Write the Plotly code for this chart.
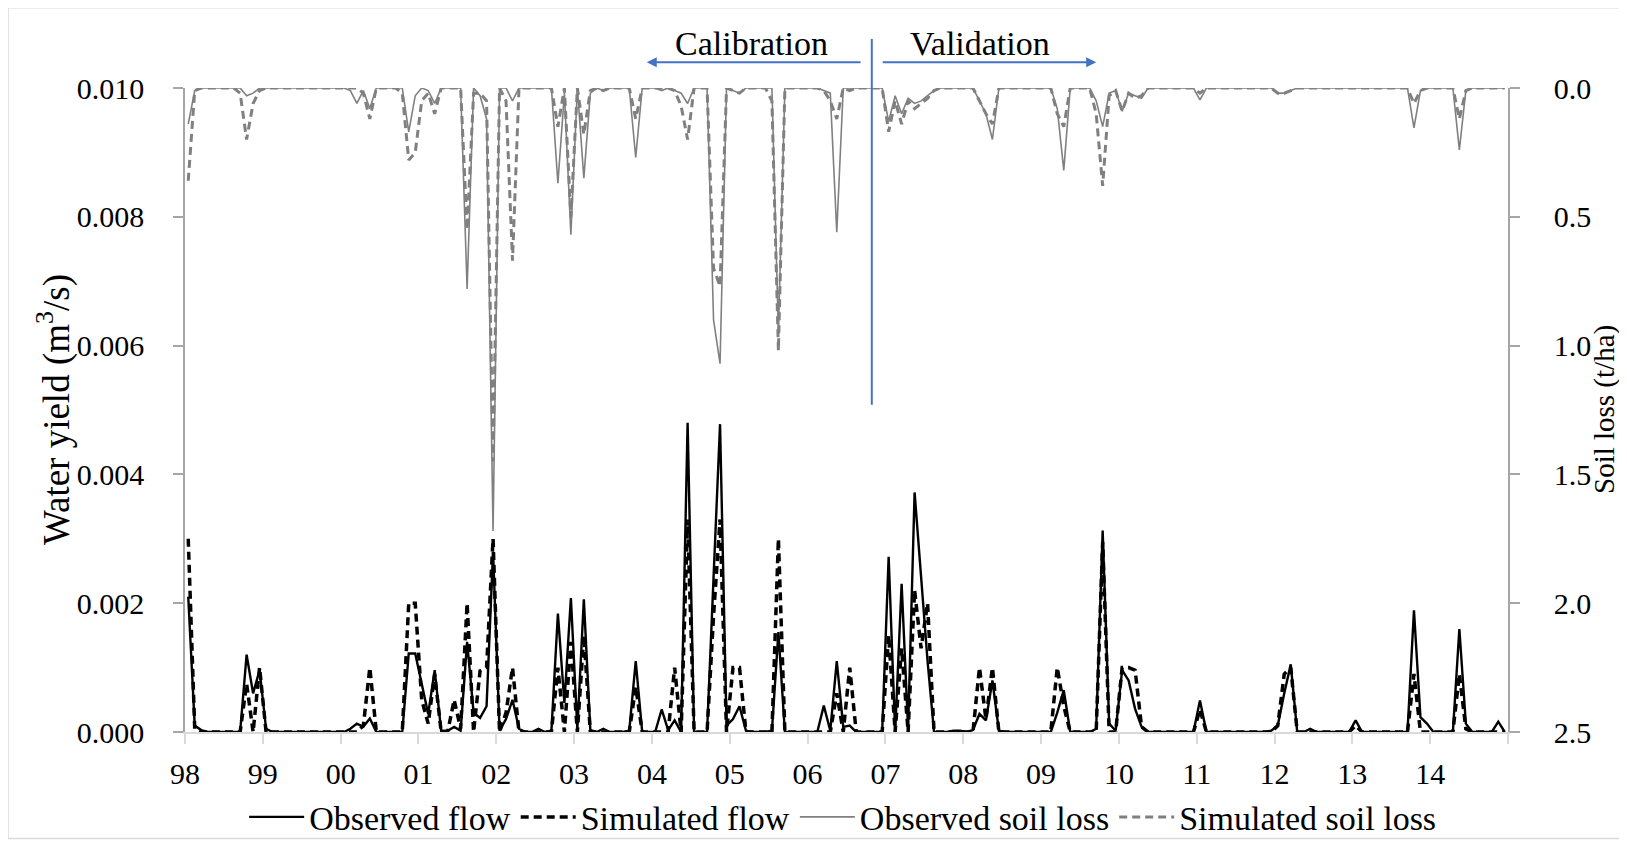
import plotly.graph_objects as go

# ---- categories (monthly, Jan 1998 .. Dec 2014) ----
year_labels = ["98", "99", "00", "01", "02", "03", "04", "05", "06", "07",
               "08", "09", "10", "11", "12", "13", "14"]

# ---- observed flow (m3/s), one row per year ----
obs_flow = [
    0.0021, 0.0001, 0.00003, 0, 0, 0, 0, 0, 0, 0.0012, 0.0006, 0.00096,          # 1998
    0.00005, 0, 0, 0, 0, 0, 0, 0, 0, 0, 0, 0,                                    # 1999
    0, 0.00005, 0.00013, 0.00008, 0.00021, 0, 0, 0, 0, 0, 0.00122, 0.00122,      # 2000
    0.00075, 0.00028, 0.00096, 0.00002, 0.00002, 0.00008, 0.00002, 0.0014,
    0.0003, 0.00022, 0.0004, 0.0028,                                             # 2001
    0.00002, 0.0002, 0.0005, 0.00005, 0, 0, 0.00005, 0, 0.00002, 0.00184,
    0.00045, 0.00208,                                                            # 2002
    0.00005, 0.00206, 0.00003, 0, 0.00005, 0, 0, 0, 0.00002, 0.0011, 0, 0,       # 2003
    0, 0.00035, 0.00003, 0.00018, 0, 0.0048, 0, 0, 0, 0.0024, 0.00478, 0.0001,   # 2004
    0.0002, 0.0004, 0.00002, 0, 0, 0, 0.00002, 0.00155, 0, 0, 0, 0,             # 2005
    0, 0, 0.00041, 0.00002, 0.0011, 0.00008, 0.0001, 0, 0, 0, 0, 0,             # 2006
    0.00272, 0, 0.0023, 0.00005, 0.00372, 0.0024, 0.0011, 0, 0, 0, 0.00002,
    0.00002,                                                                     # 2007
    0, 0.00003, 0.00028, 0.00018, 0.0008, 0.00002, 0, 0, 0, 0, 0, 0,            # 2008
    0, 0, 0.0003, 0.00065, 0, 0, 0, 0, 0.00005, 0.00313, 0.00013, 0.00002,      # 2009
    0.00096, 0.0008, 0.00036, 0.00008, 0, 0, 0, 0, 0, 0, 0, 0,                  # 2010
    0.00049, 0, 0, 0, 0, 0, 0, 0, 0, 0, 0, 0.00002,                             # 2011
    0.0001, 0.0006, 0.00105, 0, 0, 0.00005, 0, 0, 0, 0, 0, 0,                   # 2012
    0.00018, 0, 0, 0, 0, 0, 0, 0, 0, 0.00189, 0.00023, 0.00013,                 # 2013
    0, 0, 0, 0, 0.0016, 0.00013, 0, 0, 0, 0, 0.00016, 0,                        # 2014
]

# ---- simulated flow (m3/s) ----
sim_flow = [
    0.003, 0.00005, 0, 0, 0, 0, 0, 0, 0, 0.00075, 0, 0.001,                     # 1998
    0, 0, 0, 0, 0, 0, 0, 0, 0, 0, 0, 0,                                         # 1999
    0, 0, 0, 0.0001, 0.001, 0, 0, 0, 0, 0, 0.002, 0.002,                        # 2000
    0.0005, 0.00013, 0.0009, 0, 0, 0.0005, 0.00005, 0.002, 0, 0.00095, 0.001,
    0.003,                                                                      # 2001
    0, 0.0003, 0.001, 0, 0, 0, 0, 0, 0, 0.001, 0, 0.0014,                       # 2002
    0, 0.0015, 0, 0, 0, 0, 0, 0, 0, 0.0007, 0, 0,                               # 2003
    0, 0, 0, 0.001, 0, 0.0033, 0, 0, 0, 0.0018, 0.0033, 0,                      # 2004
    0.001, 0.001, 0, 0, 0, 0, 0, 0.003, 0, 0, 0, 0,                             # 2005
    0, 0, 0, 0, 0.0006, 0, 0.001, 0, 0, 0, 0, 0,                                # 2006
    0.0015, 0, 0.0013, 0, 0.0022, 0.0013, 0.002, 0, 0, 0, 0, 0,                 # 2007
    0, 0, 0.001, 0.0002, 0.001, 0, 0, 0, 0, 0, 0, 0,                            # 2008
    0, 0, 0.001, 0.0004, 0, 0, 0, 0, 0, 0.00295, 0, 0,                          # 2009
    0.001, 0.001, 0.00096, 0.00008, 0, 0, 0, 0, 0, 0, 0, 0,                     # 2010
    0.00035, 0, 0, 0, 0, 0, 0, 0, 0, 0, 0, 0,                                   # 2011
    0.0001, 0.0009, 0.001, 0, 0, 0, 0, 0, 0, 0, 0, 0,                           # 2012
    0.0001, 0, 0, 0, 0, 0, 0, 0, 0, 0.0009, 0, 0,                               # 2013
    0, 0, 0, 0, 0.0009, 0.00005, 0, 0, 0, 0, 0, 0,                              # 2014
]

# ---- observed soil loss (t/ha) ----
obs_soil = [
    0.14, 0.01, 0, 0, 0, 0, 0, 0, 0, 0.03, 0.02, 0,                             # 1998
    0, 0, 0, 0, 0, 0, 0, 0, 0, 0, 0, 0,                                         # 1999
    0, 0.01, 0.06, 0.01, 0.08, 0, 0, 0, 0, 0, 0.17, 0.03,                       # 2000
    0, 0.01, 0.06, 0, 0, 0, 0, 0.78, 0, 0.03, 0.12, 1.72,                       # 2001
    0, 0, 0.05, 0, 0, 0, 0, 0, 0, 0.37, 0.02, 0.57,                             # 2002
    0, 0.35, 0.02, 0, 0.01, 0, 0, 0, 0, 0.27, 0, 0,                             # 2003
    0, 0.01, 0, 0.01, 0.02, 0.06, 0, 0, 0, 0.9, 1.07, 0,                        # 2004
    0.01, 0.02, 0, 0, 0, 0, 0, 0.95, 0, 0, 0, 0,                                # 2005
    0, 0, 0.01, 0.02, 0.56, 0, 0, 0, 0, 0, 0, 0,                                # 2006
    0.13, 0.03, 0.1, 0.04, 0.06, 0.05, 0.03, 0.01, 0, 0, 0, 0,                  # 2007
    0, 0, 0.05, 0.1, 0.2, 0, 0, 0, 0, 0, 0, 0,                                  # 2008
    0, 0, 0.08, 0.32, 0, 0, 0, 0, 0.05, 0.15, 0.02, 0.01,                       # 2009
    0.09, 0.02, 0.03, 0.04, 0, 0, 0, 0, 0, 0, 0, 0,                             # 2010
    0.046, 0, 0, 0, 0, 0, 0, 0, 0, 0, 0, 0,                                     # 2011
    0.02, 0.02, 0.01, 0, 0, 0, 0, 0, 0, 0, 0, 0,                                # 2012
    0, 0, 0, 0, 0, 0, 0, 0, 0, 0.155, 0.01, 0,                                  # 2013
    0, 0, 0, 0, 0.24, 0.01, 0, 0, 0, 0, 0, 0,                                   # 2014
]

# ---- simulated soil loss (t/ha) ----
sim_soil = [
    0.36, 0.01, 0, 0, 0, 0, 0, 0, 0.02, 0.2, 0.06, 0.01,                        # 1998
    0, 0, 0, 0, 0, 0, 0, 0, 0, 0, 0, 0,                                         # 1999
    0, 0, 0, 0.02, 0.12, 0, 0, 0, 0, 0.02, 0.28, 0.25,                          # 2000
    0.05, 0.02, 0.1, 0, 0, 0, 0, 0.55, 0.02, 0.02, 0.05, 1.45,                  # 2001
    0, 0.05, 0.67, 0, 0, 0, 0, 0, 0, 0.15, 0, 0.5,                              # 2002
    0, 0.18, 0.01, 0, 0.01, 0, 0, 0, 0, 0.12, 0, 0,                             # 2003
    0, 0, 0, 0.01, 0.07, 0.2, 0, 0, 0, 0.7, 0.77, 0,                            # 2004
    0.01, 0.02, 0, 0, 0, 0, 0.05, 1.02, 0, 0, 0, 0,                             # 2005
    0, 0, 0.01, 0.05, 0.12, 0, 0.01, 0, 0, 0, 0, 0,                             # 2006
    0.17, 0.05, 0.14, 0.05, 0.08, 0.06, 0.04, 0.01, 0, 0, 0, 0,                 # 2007
    0, 0, 0.05, 0.1, 0.14, 0, 0, 0, 0, 0, 0, 0,                                 # 2008
    0, 0, 0.1, 0.15, 0, 0, 0, 0, 0.1, 0.38, 0.03, 0.01,                         # 2009
    0.09, 0.02, 0.04, 0.03, 0, 0, 0, 0, 0, 0, 0, 0,                             # 2010
    0.02, 0, 0, 0, 0, 0, 0, 0, 0, 0, 0, 0,                                      # 2011
    0.02, 0.02, 0.01, 0, 0, 0, 0, 0, 0, 0, 0, 0,                                # 2012
    0, 0, 0, 0, 0, 0, 0, 0, 0, 0.06, 0.01, 0,                                   # 2013
    0, 0, 0, 0, 0.12, 0.01, 0, 0, 0, 0, 0, 0,                                   # 2014
]

months = list(range(len(obs_flow)))          # month index 0 = Jan 1998
year_ticks = [12 * k - 0.5 for k in range(len(year_labels) + 1)]
year_text = year_labels + [""]

FONT = "Liberation Serif, Times New Roman, serif"
GREY = "#808080"
BLUE = "#4472C4"

fig = go.Figure()
fig.add_trace(go.Scatter(x=months, y=obs_soil, name="Observed soil loss", yaxis="y2",
                         mode="lines", line=dict(color=GREY, width=1.6), showlegend=False))
fig.add_trace(go.Scatter(x=months, y=sim_soil, name="Simulated soil loss", yaxis="y2",
                         mode="lines", line=dict(color=GREY, width=3, dash="8px,5px"),
                         showlegend=False))
fig.add_trace(go.Scatter(x=months, y=obs_flow, name="Observed flow",
                         mode="lines", line=dict(color="black", width=2.4)))
fig.add_trace(go.Scatter(x=months, y=sim_flow, name="Simulated flow",
                         mode="lines", line=dict(color="black", width=3.5, dash="8px,5px")))
# legend-only entries for soil loss in the correct order
fig.add_trace(go.Scatter(x=[None], y=[None], name="Observed soil loss", mode="lines",
                         line=dict(color=GREY, width=1.6)))
fig.add_trace(go.Scatter(x=[None], y=[None], name="Simulated soil loss", mode="lines",
                         line=dict(color=GREY, width=3, dash="8px,5px")))

fig.update_layout(
    width=1627, height=843,
    margin=dict(l=177, r=127, t=80, b=119, autoexpand=False),
    paper_bgcolor="white", plot_bgcolor="white",
    font=dict(family=FONT, size=30, color="black"),
    showlegend=True,
    legend=dict(orientation="h", x=0.513, xanchor="center", xref="container",
                y=0.040, yanchor="middle", yref="container",
                font=dict(size=34), itemwidth=55, tracegroupgap=0,
                bgcolor="rgba(0,0,0,0)"),
    xaxis=dict(range=[-0.5, 203.5], tickmode="array", tickvals=year_ticks, ticktext=year_text,
               ticks="outside", ticklen=10, tickcolor="#D9D9D9", tickwidth=1.5,
               showline=True, linecolor="#D9D9D9", linewidth=1.5, showgrid=False,
               zeroline=False, tickfont=dict(size=30), ticklabelstandoff=4,
               automargin=False),
    yaxis=dict(range=[0, 0.010], tickmode="array",
               tickvals=[0, 0.002, 0.004, 0.006, 0.008, 0.010], tickformat=".3f",
               ticks="outside", ticklen=10, tickcolor="#A6A6A6", tickwidth=1.5,
               showline=True, linecolor="#A6A6A6", linewidth=1.5, showgrid=False,
               zeroline=False, tickfont=dict(size=30), ticklabelstandoff=23,
               automargin=False),
    yaxis2=dict(range=[2.5, 0], overlaying="y", side="right", tickmode="array",
                tickvals=[0, 0.5, 1.0, 1.5, 2.0, 2.5], tickformat=".1f",
                ticks="outside", ticklen=10, tickcolor="#A6A6A6", tickwidth=1.5,
                showline=True, linecolor="#A6A6A6", linewidth=1.5, showgrid=False,
                zeroline=False, tickfont=dict(size=30), ticklabelstandoff=28,
                automargin=False),
)

# axis titles
fig.add_annotation(xref="paper", yref="paper", x=(54 - 185) / 1323, y=0.5,
                   text="Water yield (m<sup>3</sup>/s)", textangle=-90, showarrow=False,
                   font=dict(size=37), xanchor="center", yanchor="middle")
fig.add_annotation(xref="paper", yref="paper", x=(1604 - 185) / 1323, y=0.5,
                   text="Soil loss (t/ha)", textangle=-90, showarrow=False,
                   font=dict(size=29), xanchor="center", yanchor="middle")

# calibration / validation divider and arrows
fig.add_shape(type="line", xref="x", yref="y domain", x0=105.4, x1=105.4, y0=0.508, y1=1.076,
              line=dict(color=BLUE, width=2))
fig.add_annotation(xref="x", yref="y domain", axref="x", ayref="y domain",
                   x=70.7, y=1.040, ax=103.9, ay=1.040, text="", showarrow=True,
                   arrowhead=2, arrowsize=1, arrowwidth=2, arrowcolor=BLUE)
fig.add_annotation(xref="x", yref="y domain", axref="x", ayref="y domain",
                   x=140.0, y=1.040, ax=106.85, ay=1.040, text="", showarrow=True,
                   arrowhead=2, arrowsize=1, arrowwidth=2, arrowcolor=BLUE)
fig.add_annotation(xref="x", yref="y domain", x=86.9, y=1.069, text="Calibration",
                   showarrow=False, font=dict(size=34), yanchor="middle")
fig.add_annotation(xref="x", yref="y domain", x=122.1, y=1.069, text="Validation",
                   showarrow=False, font=dict(size=34), yanchor="middle")

# chart-area border
fig.add_shape(type="rect", xref="paper", yref="paper",
              x0=(8 - 185) / 1323, x1=(1624 - 185) / 1323,
              y0=(731.7 - 838) / 643.5, y1=(731.7 - 8) / 643.5,
              line=dict(color="#D9D9D9", width=1.5), fillcolor="rgba(0,0,0,0)", layer="below")

fig.write_html("out.html")
